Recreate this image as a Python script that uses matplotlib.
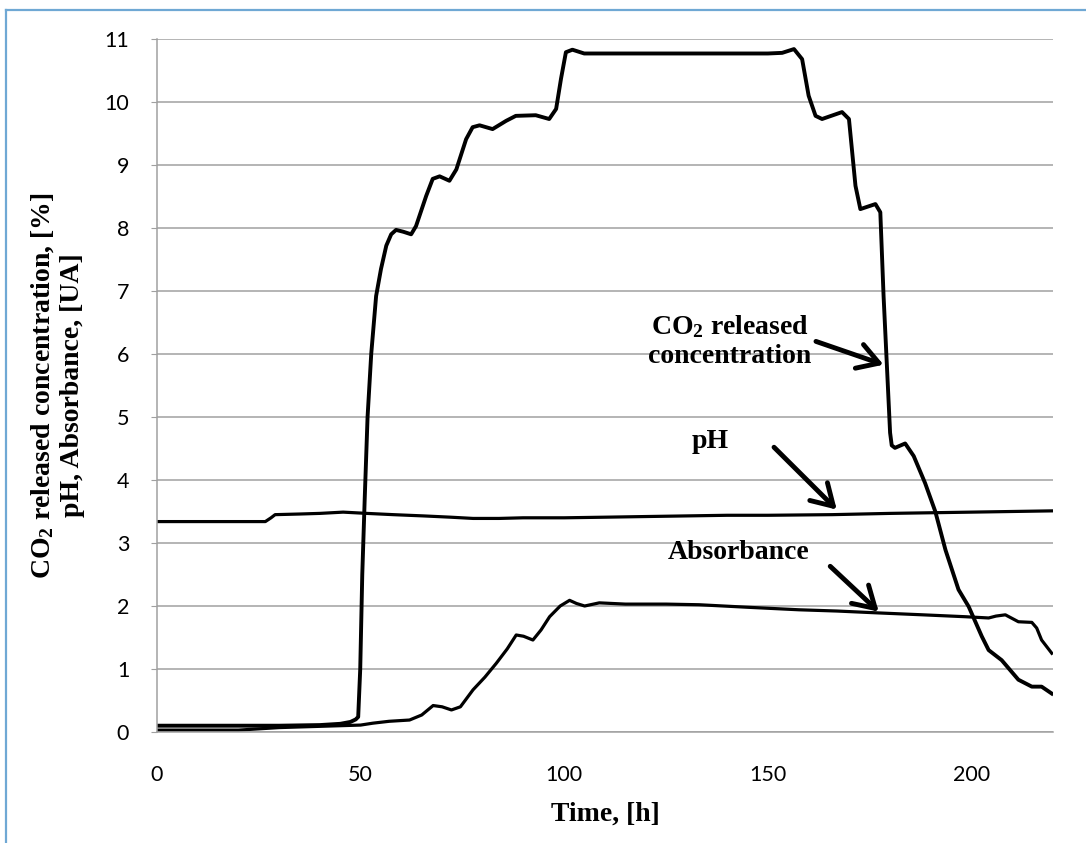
import matplotlib
matplotlib.use("Agg")
import matplotlib.pyplot as plt
from matplotlib.lines import Line2D

plt.rcParams['mathtext.fontset'] = 'custom'
plt.rcParams['mathtext.rm'] = 'Liberation Serif:bold'
plt.rcParams['mathtext.it'] = 'Liberation Serif:bold'
plt.rcParams['mathtext.bf'] = 'Liberation Serif:bold'

# values
co2_t = [0, 10, 20, 30, 40, 45, 47.5, 48.8, 49.4, 49.9, 50.4, 51.0, 51.7, 52.6, 53.8,
         55.0, 56.3, 57.5, 58.7, 60.5, 62.4, 63.6, 66.1, 67.7, 69.4, 71.8, 73.5, 75.9,
         77.5, 79.2, 82.4, 85.7, 88.1, 93.0, 96.3, 98.0, 99.2, 100.4, 102.0, 104.9, 110,
         120, 130, 140, 150, 153.5, 156.4, 158.4, 160.0, 161.7, 163.3, 168.2, 169.9,
         171.5, 172.7, 176.4, 177.6, 178.4, 179.3, 180.0, 180.4, 181.2, 183.7, 185.8,
         188.6, 191.1, 193.6, 196.8, 199.3, 202.5, 204.2, 207.4, 211.5, 214.8, 217.2, 219.7]
co2_v = [0.10, 0.10, 0.10, 0.10, 0.11, 0.13, 0.16, 0.20, 0.24, 1.0, 2.5, 3.7, 5.0, 6.0, 6.92,
         7.35, 7.72, 7.90, 7.97, 7.94, 7.90, 8.03, 8.51, 8.78, 8.82, 8.75, 8.93, 9.41,
         9.60, 9.63, 9.57, 9.70, 9.78, 9.79, 9.73, 9.89, 10.37, 10.79, 10.83, 10.77, 10.77,
         10.77, 10.77, 10.77, 10.77, 10.78, 10.84, 10.68, 10.10, 9.78, 9.73, 9.84, 9.73,
         8.67, 8.30, 8.38, 8.25, 6.92, 5.70, 4.75, 4.55, 4.51, 4.58, 4.38,
         3.95, 3.50, 2.89, 2.26, 1.99, 1.52, 1.30, 1.14, 0.83, 0.72, 0.72, 0.61]

ph_t = [0, 10, 20, 26.6, 28, 29, 35, 40, 45.7, 51.5, 58, 65.4, 72, 77.6, 84, 89.9, 100,
        110.3, 120, 130, 140, 150, 165.8, 180, 200, 219.7]
ph_v = [3.34, 3.34, 3.34, 3.34, 3.40, 3.45, 3.46, 3.47, 3.49, 3.47, 3.45, 3.43, 3.41, 3.39,
        3.39, 3.40, 3.40, 3.41, 3.42, 3.43, 3.44, 3.44, 3.45, 3.47, 3.49, 3.51]

abs_t = [0, 10, 20, 25, 30, 35, 40, 45, 50, 53, 57, 62, 65, 67.8, 70, 72.3, 74.5, 77.6,
         80.5, 83.3, 86, 88.2, 90, 92.3, 94.3, 96.4, 99, 101.3, 103, 105, 108.6, 115, 125,
         133.1, 145, 157.6, 167, 177.2, 188, 198.4, 204.2, 206, 208.3, 211.5, 214.8, 216,
         217.2, 219.7]
abs_v = [0.03, 0.03, 0.03, 0.05, 0.07, 0.08, 0.09, 0.10, 0.11, 0.14, 0.17, 0.19, 0.27, 0.42,
         0.40, 0.35, 0.40, 0.67, 0.87, 1.09, 1.32, 1.54, 1.52, 1.46, 1.62, 1.83, 2.00, 2.09,
         2.04, 2.00, 2.05, 2.03, 2.03, 2.02, 1.98, 1.94, 1.92, 1.89, 1.86, 1.83, 1.81, 1.84,
         1.86, 1.75, 1.74, 1.65, 1.46, 1.25]

x_ticks = [0, 50, 100, 150, 200]
y_ticks = list(range(0, 12))

W, H = 1086, 843
fig = plt.figure(figsize=(W / 100, H / 100), dpi=100)
ax = fig.add_axes([157 / W, 1 - 732 / H, (1053 - 157) / W, (732 - 39) / H])

grey = '#a0a0a0'
ax.set_xlim(0, 220)
ax.set_ylim(0, 11)
ax.set_xticks(x_ticks)
ax.set_yticks(y_ticks)
ax.grid(axis='y', color=grey, lw=1.1)
ax.set_axisbelow(True)
for s in ['top', 'right']:
    ax.spines[s].set_visible(False)
ax.spines['left'].set_color(grey)
ax.spines['bottom'].set_color(grey)
ax.spines['left'].set_linewidth(1.1)
ax.spines['bottom'].set_linewidth(1.1)
ax.tick_params(axis='y', length=4, color=grey, pad=16)
ax.tick_params(axis='x', length=0, pad=24)
for lab in ax.get_xticklabels() + ax.get_yticklabels():
    lab.set_family('Lato')
    lab.set_fontsize(15.5)

ax.plot(abs_t, abs_v, color='black', lw=2.3, solid_joinstyle='round')
ax.plot(ph_t, ph_v, color='black', lw=2.3, solid_joinstyle='round')
ax.plot(co2_t, co2_v, color='black', lw=2.8, solid_joinstyle='round')

lab_font = dict(family='Liberation Serif', fontweight='bold', fontsize=20)
ax.set_xlabel('Time, [h]', labelpad=12, **lab_font)
ax.set_ylabel('CO$_2$ released concentration, [%]\npH, Absorbance, [UA]', labelpad=14, **lab_font)

arrow = dict(arrowstyle='->,head_length=0.5,head_width=0.3', lw=3.5, color='black',
             mutation_scale=30, shrinkA=0, shrinkB=0)
ax.text(140.7, 6.2, 'CO$_2$ released\nconcentration', ha='center', va='center', **lab_font)
ax.annotate('', xy=(178.4, 5.83), xytext=(161.8, 6.2), arrowprops=arrow)
ax.text(135.8, 4.61, 'pH', ha='center', va='center', **lab_font)
ax.annotate('', xy=(166.9, 3.53), xytext=(151.5, 4.52), arrowprops=arrow)
ax.text(142.9, 2.85, 'Absorbance', ha='center', va='center', **lab_font)
ax.annotate('', xy=(177.2, 1.91), xytext=(165.3, 2.63), arrowprops=arrow)

# light blue frame (left and top edges only)
blue = '#6fa8d4'
fig.add_artist(Line2D([6 / W, 6 / W], [0, 1 - 10 / H], transform=fig.transFigure, color=blue, lw=1.6))
fig.add_artist(Line2D([6 / W, 1], [1 - 10 / H, 1 - 10 / H], transform=fig.transFigure, color=blue, lw=1.6))

fig.savefig('out.png', dpi=100)
